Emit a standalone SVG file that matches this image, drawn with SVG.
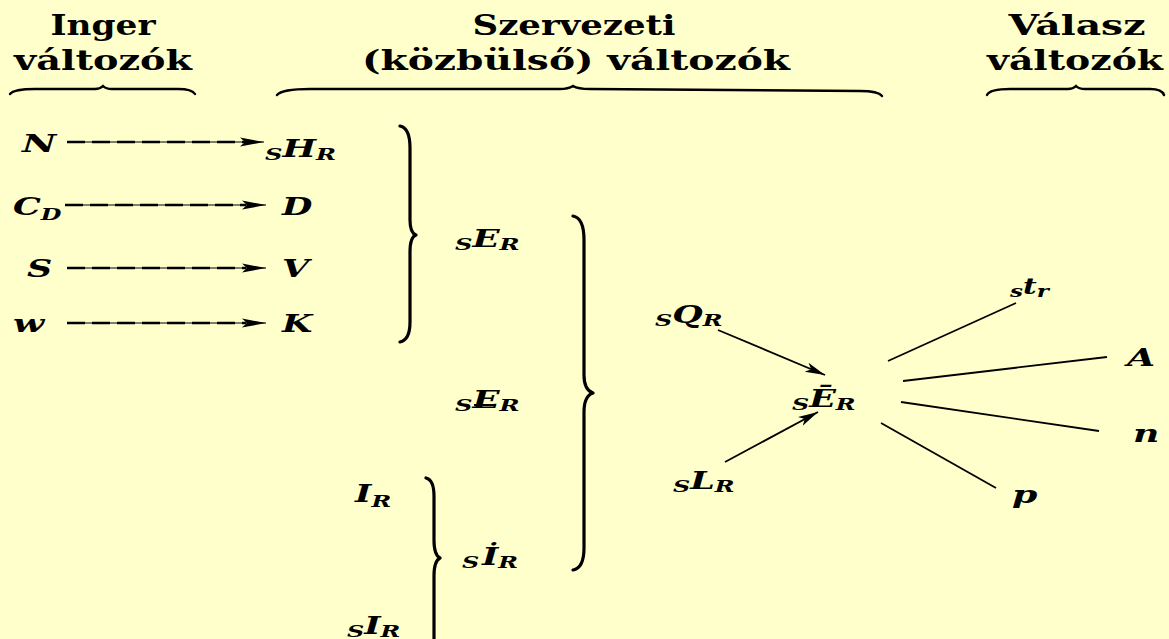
<svg xmlns="http://www.w3.org/2000/svg" width="1169" height="639" viewBox="0 0 1169 639">
<style>
.h{font-family:"DejaVu Serif",serif;font-weight:bold;font-size:28px;fill:#000;text-anchor:middle}
.m{font-family:"DejaVu Serif",serif;font-weight:bold;font-style:italic;font-size:25px;fill:#000}
.s{font-size:17px}
.br{fill:none;stroke:#000;stroke-width:3.2;stroke-linecap:round;stroke-linejoin:round}
.hb{fill:none;stroke:#000;stroke-width:2.4;stroke-linecap:round}
.dl{fill:none;stroke:#000;stroke-width:1}
.dd{fill:none;stroke:#000;stroke-width:2.6;stroke-dasharray:18 7}
.ln{fill:none;stroke:#000;stroke-width:1.8}
</style>
<defs>
<marker id="ah" markerUnits="userSpaceOnUse" markerWidth="26" markerHeight="10" refX="24" refY="5" orient="auto">
<path d="M0,0.5 L24,5 L0,9.5 L5,5 Z" fill="#000"/>
</marker>
<marker id="ah2" markerUnits="userSpaceOnUse" markerWidth="22" markerHeight="12" refX="20" refY="6" orient="auto">
<path d="M0,1 L20,6 L0,11 L5,6 Z" fill="#000"/>
</marker>
</defs>
<rect width="1169" height="639" fill="#FFFFCC"/>

<g id="headings">
<text class="h" x="103" y="35" textLength="105" lengthAdjust="spacingAndGlyphs">Inger</text>
<text class="h" x="103" y="70" textLength="178" lengthAdjust="spacingAndGlyphs">változók</text>
<path class="hb" d="M10,94 Q14,89 35,89 L95,89 Q100,89 103,86 Q106,89 112,89 L178,89 Q192,89 195,94"/>
<text class="h" x="574" y="35" textLength="203" lengthAdjust="spacingAndGlyphs">Szervezeti</text>
<text class="h" x="576" y="70" textLength="428" lengthAdjust="spacingAndGlyphs">(közbülső) változók</text>
<path class="hb" d="M277,95 Q282,89 310,89 L560,89 Q568,89 573,86 Q578,89 590,89 L860,91 Q878,91 882,96"/>
<text class="h" x="1077" y="35" textLength="137" lengthAdjust="spacingAndGlyphs">Válasz</text>
<text class="h" x="1075" y="70" textLength="176" lengthAdjust="spacingAndGlyphs">változók</text>
<path class="hb" d="M987,95 Q990,89 1010,89 L1068,89 Q1073,89 1076,86 Q1079,89 1085,89 L1150,89 Q1162,89 1164,95"/>
</g>

<g id="connectors">
<path class="dl" d="M67,142 H264" marker-end="url(#ah)"/>
<path class="dd" d="M67,142 H246"/>
<path class="dl" d="M65,205 H266" marker-end="url(#ah)"/>
<path class="dd" d="M65,205 H246"/>
<path class="dl" d="M67,268 H266" marker-end="url(#ah)"/>
<path class="dd" d="M67,268 H246"/>
<path class="dl" d="M67,323 H266" marker-end="url(#ah)"/>
<path class="dd" d="M67,323 H246"/>
<path class="ln" d="M718,330 L825,375" marker-end="url(#ah2)"/>
<path class="ln" d="M725,462 L818,412" marker-end="url(#ah2)"/>
<path class="ln" d="M888,361 L1016,303"/>
<path class="ln" d="M903,381 L1107,357"/>
<path class="ln" d="M901,402 L1099,431"/>
<path class="ln" d="M881,423 L996,488"/>
</g>

<g id="braces">
<path class="br" d="M400,126 Q410,128 410,148 L410,220 Q410,233 416,235 Q410,237 410,252 L410,322 Q410,340 400,342"/>
<path class="br" d="M573,216 Q584,218 584,240 L584,375 Q584,390 593,393 Q584,396 584,412 L584,548 Q584,568 573,570"/>
<path class="br" d="M426,478 Q434,480 434,496 L434,540 Q434,555 440,558 Q434,561 434,576 L434,640"/>
</g>

<g id="node-N"><g transform="translate(22,152) scale(1.5,1)"><text class="m">N</text></g></g>
<g id="node-CD"><g transform="translate(13,215) scale(1.4,1)"><text class="m">C<tspan class="s" dy="5">D</tspan></text></g></g>
<g id="node-S"><g transform="translate(27,277) scale(1.4,1)"><text class="m">S</text></g></g>
<g id="node-w"><g transform="translate(13,332) scale(1.45,1)"><text class="m">w</text></g></g>

<g id="node-sHR"><g transform="translate(265,157) scale(1.42,1)"><text class="m"><tspan class="s" dy="3">S</tspan><tspan dy="-3">H</tspan><tspan class="s" dy="3">R</tspan></text></g></g>
<g id="node-D"><g transform="translate(282,215) scale(1.4,1)"><text class="m">D</text></g></g>
<g id="node-V"><g transform="translate(282,277) scale(1.4,1)"><text class="m">V</text></g></g>
<g id="node-K"><g transform="translate(282,332) scale(1.4,1)"><text class="m">K</text></g></g>

<g id="node-sER1"><g transform="translate(455,247) scale(1.42,1)"><text class="m"><tspan class="s" dy="3">S</tspan><tspan dy="-3">E</tspan><tspan class="s" dy="3">R</tspan></text></g></g>
<g id="node-sER2"><g transform="translate(455,408) scale(1.42,1)"><text class="m"><tspan class="s" dy="3">S</tspan><tspan dy="-3">E</tspan><tspan class="s" dy="3">R</tspan></text></g>
<path d="M474,405 H496" stroke="#000" stroke-width="2"/></g>

<g id="node-IR"><g transform="translate(355,502) scale(1.4,1)"><text class="m">I<tspan class="s" dy="5">R</tspan></text></g></g>
<g id="node-sIR"><g transform="translate(347,637) scale(1.4,1)"><text class="m"><tspan class="s" dy="0">S</tspan><tspan dy="-3">I</tspan><tspan class="s" dy="3">R</tspan></text></g></g>
<g id="node-sIdotR"><g transform="translate(462,568) scale(1.4,1)"><text class="m"><tspan class="s" dy="0">S</tspan><tspan dx="2" dy="-3">İ</tspan><tspan class="s" dy="3">R</tspan></text></g></g>

<g id="node-sQR"><g transform="translate(655,326) scale(1.4,1)"><text class="m"><tspan class="s" dy="0">S</tspan><tspan dy="-3">Q</tspan><tspan class="s" dy="3">R</tspan></text></g></g>
<g id="node-sEbarR"><g transform="translate(792,410) scale(1.4,1)"><text class="m"><tspan class="s" dy="0">S</tspan><tspan dy="-3">Ē</tspan><tspan class="s" dy="3">R</tspan></text></g></g>
<g id="node-sLR"><g transform="translate(673,492) scale(1.4,1)"><text class="m"><tspan class="s" dy="0">S</tspan><tspan dy="-3">L</tspan><tspan class="s" dy="3">R</tspan></text></g></g>

<g id="node-str"><g transform="translate(1010,297) scale(1.35,1)"><text class="m"><tspan class="s" font-size="13px" dy="0">s</tspan><tspan font-size="22px" dy="-3">t</tspan><tspan class="s" font-size="15px" dy="3">r</tspan></text></g></g>
<g id="node-A"><g transform="translate(1127,366) scale(1.45,1)"><text class="m">A</text></g></g>
<g id="node-n"><g transform="translate(1133,442) scale(1.45,1)"><text class="m">n</text></g></g>
<g id="node-p"><g transform="translate(1012,503) scale(1.45,1)"><text class="m">p</text></g></g>
</svg>
